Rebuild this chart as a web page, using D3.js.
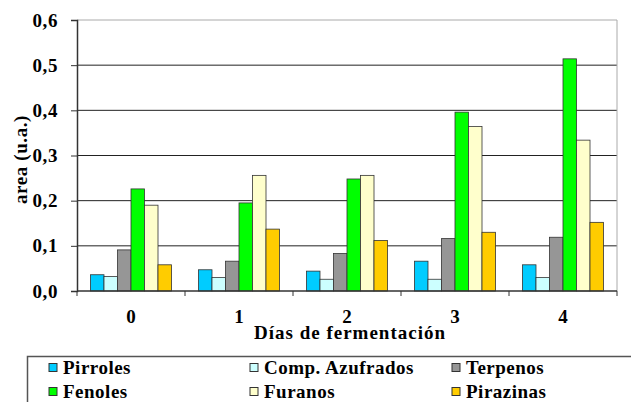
<!DOCTYPE html>
<html>
<head>
<meta charset="utf-8">
<script src="https://d3js.org/d3.v7.min.js"></script>
<style>
  body { margin: 0; background: #fff; }
</style>
</head>
<body>
<svg width="631" height="402"></svg>
<script>
// datos
var dias = ["0", "1", "2", "3", "4"];
var series = ["Pirroles", "Comp. Azufrados", "Terpenos", "Fenoles", "Furanos", "Pirazinas"];
var colores = ["#00CCFF", "#CCFFFF", "#969696", "#00FF00", "#FFFFCC", "#FFCC00"];
var pirroles   = [0.036, 0.047, 0.044, 0.066, 0.058];
var azufrados  = [0.032, 0.030, 0.026, 0.026, 0.030];
var terpenos   = [0.091, 0.066, 0.083, 0.116, 0.119];
var fenoles    = [0.226, 0.195, 0.248, 0.396, 0.514];
var furanos    = [0.190, 0.256, 0.256, 0.364, 0.334];
var pirazinas  = [0.058, 0.137, 0.112, 0.130, 0.152];
var yTicks = [0, 0.1, 0.2, 0.3, 0.4, 0.5, 0.6];

var valores = [pirroles, azufrados, terpenos, fenoles, furanos, pirazinas];
var fuente = "Liberation Serif";

var svg = d3.select("svg");
var mLeft = 77, mRight = 617, mTop = 20, mBottom = 291;

var x0 = d3.scaleBand().domain(dias).range([mLeft, mRight])
    .paddingInner(0.25).paddingOuter(0.125);
var x1 = d3.scaleBand().domain(series).range([0, x0.bandwidth()]);
var y = d3.scaleLinear().domain([0, 0.6]).range([mBottom, mTop]);

var fmt = d3.formatLocale({decimal: ",", thousands: ".", grouping: [3], currency: ["", ""]}).format(".1f");

// lineas de la rejilla
svg.append("g").selectAll("line")
    .data(yTicks.filter(function(d) { return d > 0 && d < 0.6; }))
    .enter().append("line")
    .attr("x1", mLeft).attr("x2", mRight)
    .attr("y1", function(d) { return y(d); })
    .attr("y2", function(d) { return y(d); })
    .attr("stroke", "#222").attr("stroke-width", 1);

// borde del area de trazado
svg.append("path")
    .attr("d", "M" + mLeft + "," + y(0.6) + "H" + mRight + "V" + mBottom)
    .attr("fill", "none").attr("stroke", "#aaa").attr("stroke-width", 1);

// barras
var grupo = svg.append("g").selectAll("g")
    .data(dias)
    .enter().append("g")
    .attr("transform", function(d) { return "translate(" + x0(d) + ",0)"; });

grupo.selectAll("rect")
    .data(function(d, i) {
        return series.map(function(s, j) { return {serie: s, valor: valores[j][i], color: colores[j]}; });
    })
    .enter().append("rect")
    .attr("x", function(d) { return x1(d.serie); })
    .attr("width", x1.bandwidth())
    .attr("y", function(d) { return y(d.valor); })
    .attr("height", function(d) { return mBottom - y(d.valor); })
    .attr("fill", function(d) { return d.color; })
    .attr("stroke", "#333").attr("stroke-width", 0.8);

// eje y
var yAxis = svg.append("g")
    .attr("transform", "translate(" + mLeft + ",0)")
    .call(d3.axisLeft(y).tickValues(yTicks).tickFormat(fmt).tickSize(6).tickPadding(13));
yAxis.attr("font-family", fuente).attr("font-size", 19).attr("font-weight", "bold");
yAxis.select(".domain").attr("stroke", "#333").attr("stroke-width", 1.5);
yAxis.selectAll(".tick line").attr("stroke", "#333");
yAxis.selectAll("text").attr("fill", "#000").attr("letter-spacing", 0.6);

// eje x
var xAxis = svg.append("g")
    .attr("transform", "translate(0," + mBottom + ")");
xAxis.append("line").attr("x1", mLeft).attr("x2", mRight).attr("stroke", "#333").attr("stroke-width", 1.5);
var bordes = dias.map(function(d) { return x0(d) - x0.step() * x0.paddingInner() / 2; });
bordes.push(mRight);
xAxis.selectAll(".tk").data(bordes).enter().append("line")
    .attr("x1", function(d) { return d; }).attr("x2", function(d) { return d; })
    .attr("y1", 0).attr("y2", 5).attr("stroke", "#333");
xAxis.selectAll(".lbl").data(dias).enter().append("text")
    .attr("x", function(d) { return x0(d) + x0.bandwidth() / 2; })
    .attr("y", 32)
    .attr("text-anchor", "middle")
    .attr("font-family", fuente).attr("font-weight", "bold")
    .attr("font-size", 19)
    .text(function(d) { return d; });

// titulos
svg.append("text")
    .attr("x", (mLeft + mRight) / 2 + 3).attr("y", 339)
    .attr("text-anchor", "middle")
    .attr("font-family", fuente).attr("font-weight", "bold").attr("font-size", 19)
    .attr("letter-spacing", 1)
    .text("Días de fermentación");

svg.append("text")
    .attr("transform", "translate(27," + ((mTop + mBottom) / 2 + 4) + ") rotate(-90)")
    .attr("text-anchor", "middle")
    .attr("font-family", fuente).attr("font-weight", "bold").attr("font-size", 19)
    .attr("letter-spacing", 0.6)
    .text("area (u.a.)");

// leyenda
svg.append("rect")
    .attr("x", 27.5).attr("y", 356.5).attr("width", 620).attr("height", 60)
    .attr("fill", "#fff").attr("stroke", "#555").attr("stroke-width", 1.5);

var colX = [49, 250, 452];
var filaY = [368, 392];
var ley = svg.append("g").selectAll("g")
    .data(series)
    .enter().append("g")
    .attr("transform", function(d, i) { return "translate(" + colX[i % 3] + "," + filaY[Math.floor(i / 3)] + ")"; });
ley.append("rect")
    .attr("x", 0).attr("y", -4.5).attr("width", 8).attr("height", 8)
    .attr("fill", function(d, i) { return colores[i]; })
    .attr("stroke", "#333").attr("stroke-width", 1);
ley.append("text")
    .attr("x", 14).attr("y", 6)
    .attr("font-family", fuente).attr("font-weight", "bold").attr("font-size", 19)
    .attr("letter-spacing", 0.5)
    .text(function(d) { return d; });
</script>
</body>
</html>
